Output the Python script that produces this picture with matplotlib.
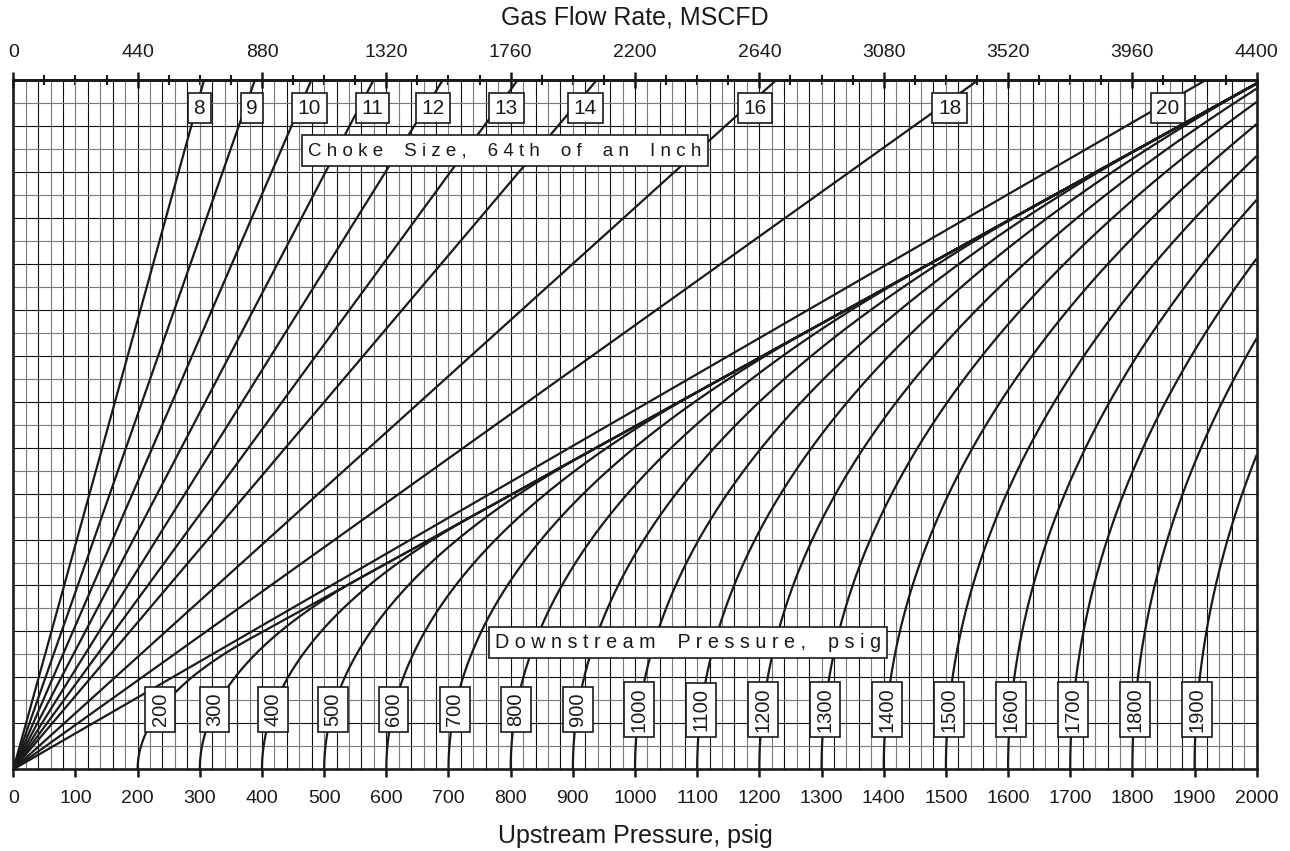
"""Gas choke nomogram: upstream pressure (bottom), downstream pressure curves,
choke-size lines and gas flow rate (top)."""

import numpy as np
import matplotlib
matplotlib.use("Agg")
import matplotlib.pyplot as plt
from matplotlib.ticker import FixedLocator

plt.rcParams["font.family"] = ["Liberation Sans", "DejaVu Sans"]

# --- values -----------------------------------------------------------------
CHOKE_SIZES = [8, 9, 10, 11, 12, 13, 14, 16, 18, 20]          # 64ths of an inch
CHOKE_TOP_FLOW = [675, 855, 1055, 1275, 1520, 1785, 2065, 2700, 3415, 4220]  # MSCFD at top edge
DOWNSTREAM = [200, 300, 400, 500, 600, 700, 800, 900, 1000,
              1100, 1200, 1300, 1400, 1500, 1600, 1700, 1800, 1900]  # psig
UPSTREAM_TICKS = list(range(0, 2001, 100))
FLOW_TICKS = list(range(0, 4401, 440))
UPSTREAM_MAX = 2000      # psig
FLOW_MAX = 4400          # MSCFD
PSIA = 14.7
GAS_K = 1.3              # ratio of specific heats that fits the curves
ROWS = 30                # chart grid rows
CRIT_TOP = 29.85         # row where the critical-flow line meets the right edge

# label placement (psig along the bottom scale)
CHOKE_LABEL_X = [299, 384, 476, 577, 675, 793, 920, 1193, 1506, 1857]
CHOKE_LABEL_Y = 28.78
PD_LABEL_Y = 2.6

INK = "#1a1a1a"

fig = plt.figure(figsize=(12.9, 8.51), dpi=100)
ax = fig.add_axes([0.0103, 0.0960, 0.9639, 0.8100])
ax.set_xlim(0, UPSTREAM_MAX)
ax.set_ylim(0, ROWS)

# --- grid ------------------------------------------------------------------
ax.vlines(np.arange(40, UPSTREAM_MAX, 40), 0, ROWS, colors="#111111", lw=0.8, zorder=1)
ax.vlines(np.arange(20, UPSTREAM_MAX, 40), 0, ROWS, colors="#7a7a7a", lw=0.8, zorder=1)
ax.hlines(np.arange(2, ROWS, 2), 0, UPSTREAM_MAX, colors="#111111", lw=0.8, zorder=1)
ax.hlines(np.arange(1, ROWS, 2), 0, UPSTREAM_MAX, colors="#7a7a7a", lw=0.8, zorder=1)


def flow_fraction(p1, pd):
    """Subcritical / critical flow fraction through a choke."""
    k = GAS_K
    rc = (2 / (k + 1)) ** (k / (k - 1))
    r = np.maximum((pd + PSIA) / (p1 + PSIA), rc)
    g = r ** (2 / k) - r ** ((k + 1) / k)
    gc = rc ** (2 / k) - rc ** ((k + 1) / k)
    return np.sqrt(np.clip(g / gc, 0, None))


slope = CRIT_TOP / UPSTREAM_MAX
box = dict(boxstyle="square,pad=0.27", fc="white", ec=INK, lw=1.2)

# --- downstream pressure curves ------------------------------------------
for pd in DOWNSTREAM:
    t = np.linspace(0, 1, 600)
    p1 = pd + (UPSTREAM_MAX - pd) * t ** 2
    y = slope * p1 * flow_fraction(p1, pd)
    ax.plot(p1, y, color=INK, lw=1.6, zorder=3, solid_capstyle="butt")
    xl = np.interp(PD_LABEL_Y, y, p1)
    ax.text(xl, PD_LABEL_Y, str(pd), rotation=90, ha="center", va="center",
            fontsize=14.5, color=INK, bbox=box, zorder=5)

# --- choke size lines --------------------------------------------------------
ratio = FLOW_MAX / UPSTREAM_MAX
for size, q, lx in zip(CHOKE_SIZES, CHOKE_TOP_FLOW, CHOKE_LABEL_X):
    ax.plot([0, q / ratio], [0, ROWS], color=INK, lw=1.6, zorder=3)
    ax.text(lx, CHOKE_LABEL_Y, str(size), ha="center", va="center",
            fontsize=15, color=INK, bbox=box, zorder=5)


def spaced(s):
    return "    ".join(" ".join(w) for w in s.split(" "))


ax.text(791, 26.93, spaced("Choke Size, 64th of an Inch"), ha="center", va="center",
        fontsize=13.5, color=INK, zorder=5,
        bbox=dict(boxstyle="square,pad=0.35", fc="white", ec=INK, lw=1.2))
ax.text(1086, 5.52, spaced("Downstream Pressure, psig"), ha="center", va="center",
        fontsize=14.2, color=INK, zorder=5,
        bbox=dict(boxstyle="square,pad=0.3", fc="white", ec=INK, lw=1.2))

# --- axes ------------------------------------------------------------------
for s in ax.spines.values():
    s.set_linewidth(1.9)
    s.set_color(INK)
    s.set_zorder(6)

ax.set_yticks([])
ax.xaxis.set_major_locator(FixedLocator(UPSTREAM_TICKS))
ax.tick_params(axis="x", direction="out", length=6, width=1.8, pad=9,
               labelsize=14, colors=INK)
ax.set_xlabel("Upstream Pressure, psig", fontsize=18, labelpad=12, color=INK)

top = ax.secondary_xaxis("top", functions=(lambda x: x * ratio, lambda q: q / ratio))
top.xaxis.set_major_locator(FixedLocator(FLOW_TICKS))
top.xaxis.set_minor_locator(FixedLocator(np.arange(110, FLOW_MAX, 110)))
top.tick_params(axis="x", which="major", direction="inout", length=11, width=1.8,
                pad=8, labelsize=14, colors=INK)
top.tick_params(axis="x", which="minor", direction="inout", length=7, width=1.5,
                colors=INK)
top.spines["top"].set_linewidth(1.9)
top.set_xlabel("Gas Flow Rate, MSCFD", fontsize=18, labelpad=14, color=INK)

fig.savefig("out.png", dpi=100, facecolor="white")
